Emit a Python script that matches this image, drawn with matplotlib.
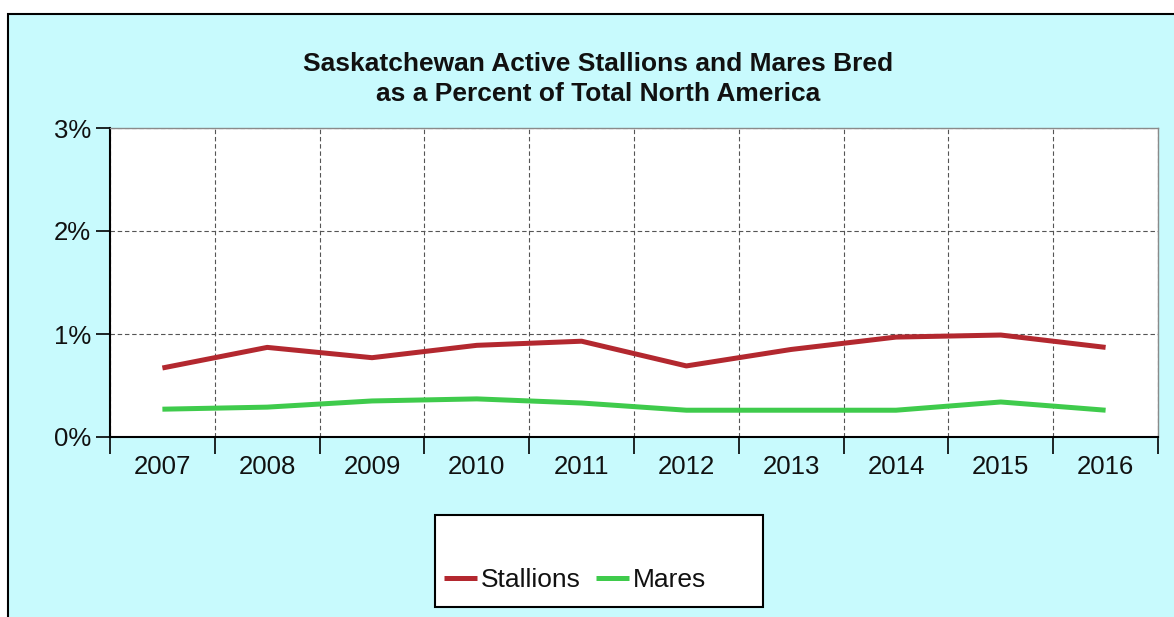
import matplotlib
matplotlib.use('Agg')
import matplotlib.pyplot as plt
from matplotlib.patches import Rectangle
from matplotlib.ticker import FuncFormatter, FixedLocator

years = ['2007', '2008', '2009', '2010', '2011', '2012', '2013', '2014', '2015', '2016']
stallions = [0.67, 0.87, 0.77, 0.89, 0.93, 0.69, 0.85, 0.97, 0.99, 0.87]
mares = [0.27, 0.29, 0.35, 0.37, 0.33, 0.26, 0.26, 0.26, 0.34, 0.26]

plt.rcParams['font.family'] = ['Liberation Sans', 'DejaVu Sans']

W, H = 1174, 617
fig = plt.figure(figsize=(W / 100, H / 100), dpi=100)
fig.patch.set_facecolor('white')

# cyan chart background with black border on left/top
bg = Rectangle((8 / W, -0.05), 1.1, (H - 14) / H + 0.05, transform=fig.transFigure,
               facecolor='#c8fafd', edgecolor='black', linewidth=1.5, zorder=-10)
fig.patches.append(bg)

ax = fig.add_axes([110 / W, (H - 437) / H, 1048 / W, 309 / H])
ax.set_facecolor('white')

x = list(range(len(years)))
ax.plot(x, stallions, color='#b3282f', lw=3.6, label='Stallions', solid_capstyle='butt')
ax.plot(x, mares, color='#3fcb4c', lw=3.6, label='Mares', solid_capstyle='butt')

ax.set_xlim(-0.5, len(years) - 0.5)
ax.set_ylim(0, 3)

# x: ticks on category boundaries, labels centred
ax.xaxis.set_major_locator(FixedLocator([i - 0.5 for i in range(len(years) + 1)]))
ax.xaxis.set_minor_locator(FixedLocator(x))
ax.set_xticklabels([''] * (len(years) + 1))
ax.set_xticklabels(years, minor=True)
ax.tick_params(axis='x', which='major', direction='out', length=12, width=1.2, color='black')
ax.tick_params(axis='x', which='minor', length=0, pad=13, labelsize=18.5, labelcolor='#111111')

ax.set_yticks([0, 1, 2, 3])
ax.yaxis.set_major_formatter(FuncFormatter(lambda v, p: '%d%%' % v))
ax.tick_params(axis='y', direction='out', length=10, width=1.2, pad=3.5, labelsize=18.5, labelcolor='#111111')

ax.grid(True, which='major', color='#555555', linestyle=(0, (4, 2.5)), linewidth=0.8)
for s in ['left', 'bottom']:
    ax.spines[s].set_color('black')
    ax.spines[s].set_linewidth(1.5)
for s in ['top', 'right']:
    ax.spines[s].set_color('#8a8a8a')
    ax.spines[s].set_linewidth(1.0)

fig.text(598 / W, 1 - 79 / H, 'Saskatchewan Active Stallions and Mares Bred\nas a Percent of Total North America',
         ha='center', va='center', fontsize=19, fontweight='bold', color='#111111', linespacing=1.32)

# legend box
box = Rectangle((435 / W, 1 - 607 / H), 328 / W, 92 / H, transform=fig.transFigure,
                facecolor='white', edgecolor='black', linewidth=1.5, zorder=1)
fig.patches.append(box)
leg = fig.legend(loc='center', bbox_to_anchor=(575 / W, 1 - 580 / H), ncol=2, frameon=False,
                 handlelength=1.25, handletextpad=0.15, columnspacing=0.6,
                 prop={'size': 19})
for t in leg.get_texts():
    t.set_color('#111111')

fig.savefig('out.png', dpi=100)
